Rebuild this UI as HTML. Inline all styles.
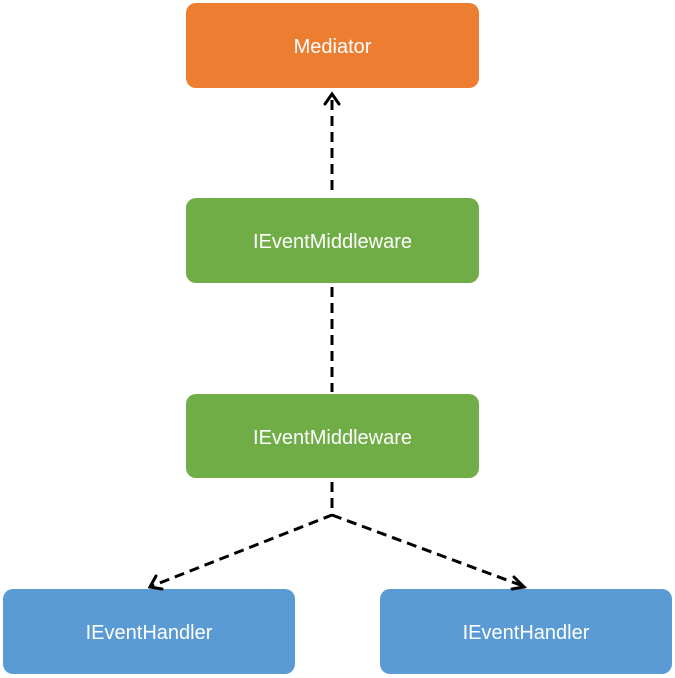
<!DOCTYPE html>
<html><head><meta charset="utf-8"><style>
html,body{margin:0;padding:0;background:#fff;width:675px;height:678px;overflow:hidden}
</style></head><body>
<svg width="675" height="678" viewBox="0 0 675 678" xmlns="http://www.w3.org/2000/svg">
<g font-family="Liberation Sans, Arial, sans-serif" font-size="20" fill="#fff" text-anchor="middle">
<rect x="186" y="3" width="293" height="85" rx="10" fill="#ED7D31"/>
<text x="332.5" y="53" fill="#fff">Mediator</text>
<rect x="186" y="198" width="293" height="85" rx="10" fill="#70AD47"/>
<text x="332.5" y="248" fill="#fff">IEventMiddleware</text>
<rect x="186" y="394" width="293" height="84" rx="10" fill="#70AD47"/>
<text x="332.5" y="444" fill="#fff">IEventMiddleware</text>
<rect x="3" y="589" width="292" height="85" rx="10" fill="#5B9BD5"/>
<text x="149" y="639" fill="#fff">IEventHandler</text>
<rect x="380" y="589" width="292" height="85" rx="10" fill="#5B9BD5"/>
<text x="526" y="639" fill="#fff">IEventHandler</text>
</g>
<g stroke="#000" stroke-width="3" fill="none" stroke-dasharray="10,6">
<line x1="332" y1="190" x2="332" y2="96"/>
<line x1="332" y1="287" x2="332" y2="392"/>
<polyline points="332,482 332,515 152,586"/>
<line x1="332" y1="515" x2="523" y2="586"/>
</g>
<g stroke="#000" stroke-width="3" fill="none" stroke-linecap="round">
<polyline points="325,104 332,94 339,104"/>
<polyline points="156,576 150,587 162,589"/>
<polyline points="514,577 524,587 512,589"/>
</g>
</svg>
</body></html>
